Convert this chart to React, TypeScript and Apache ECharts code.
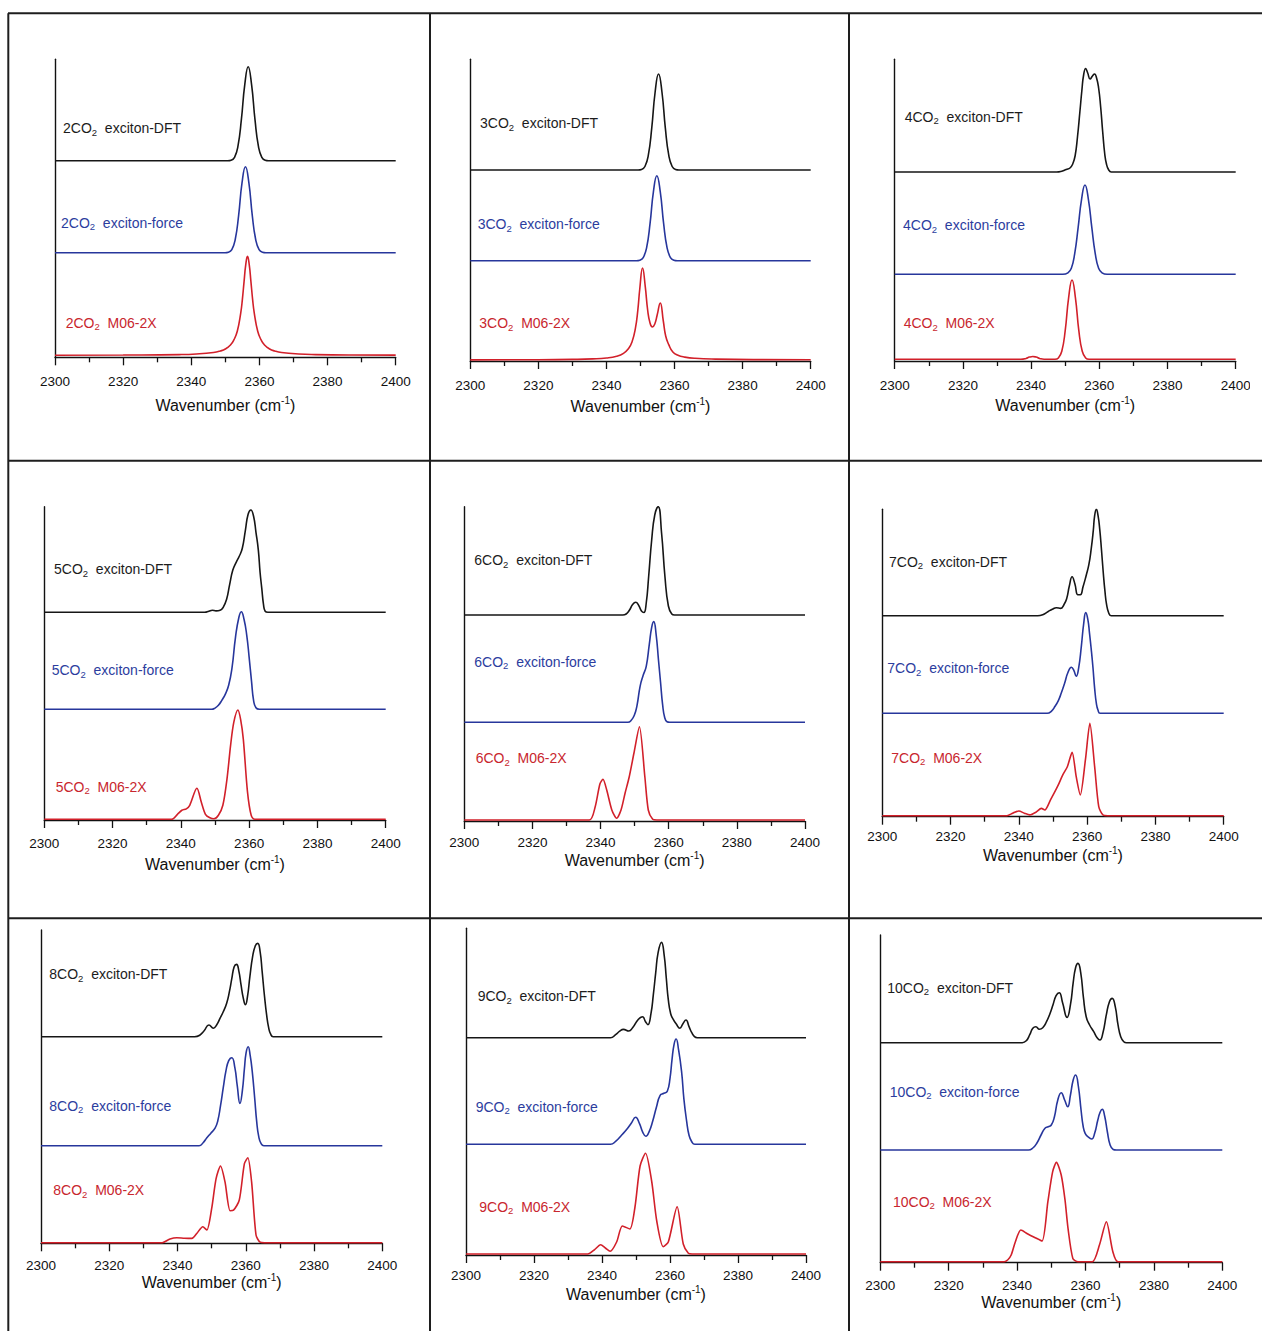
import React, { useEffect, useRef } from "react";
import * as echarts from "echarts";

type Pt = [number, number];

// ---------- axis ----------
const X_MIN = 2300;
const X_MAX = 2400;
const X_STEP = 20;
const X_TITLE = "{a|Wavenumber (cm}{b|-1}{a|)}";

// ---------- labels ----------
const CLUSTER_SIZES = [2, 3, 4, 5, 6, 7, 8, 9, 10];
const METHODS = ["exciton-DFT", "exciton-force", "M06-2X"];

// ---------- spectra: [wavenumber, relative intensity] ----------
const dft2: Pt[] = [[2300,0],[2350.7,0],[2351.7,0.5],[2352.7,3.4],[2353.7,14.5],[2354.7,41],[2355.7,76],[2356.7,94],[2357.7,76],[2358.7,41],[2359.7,14.5],[2360.7,3.4],[2361.7,0.5],[2362.7,0],[2400,0]];
const force2: Pt[] = [[2300,0],[2349.9,0],[2350.9,0.5],[2351.9,3.1],[2352.9,13.2],[2353.9,37.4],[2354.9,70],[2355.9,86],[2356.9,70],[2357.9,37.4],[2358.9,13.2],[2359.9,3.1],[2360.9,0.5],[2361.9,0],[2400,0]];
const m06_2: Pt[] = [[2300,0.1],[2320,0.3],[2336.5,0.7],[2341.5,1.3],[2346.5,2.8],[2348.5,4.3],[2350,6.3],[2351.5,10.3],[2352.5,15.4],[2353.5,24],[2354.5,42],[2355,56],[2355.5,74],[2356,91],[2356.5,99],[2357,91],[2357.5,74],[2358,56],[2358.5,42],[2359.5,24],[2360.5,15.4],[2361.5,10.3],[2363,6.3],[2364.5,4.3],[2366.5,2.8],[2371.5,1.3],[2376.5,0.7],[2386.5,0.3],[2400,0.2]];

const dft3: Pt[] = [[2300,0],[2349.3,0],[2350.3,0.5],[2351.3,3.5],[2352.3,14.8],[2353.3,41.8],[2354.3,78],[2355.3,96],[2356.3,78],[2357.3,41.8],[2358.3,14.8],[2359.3,3.5],[2360.3,0.5],[2361.3,0],[2400,0]];
const force3: Pt[] = [[2300,0],[2348.8,0],[2349.8,0.5],[2350.8,3.1],[2351.8,13.1],[2352.8,37],[2353.8,69],[2354.8,85],[2355.8,69],[2356.8,37],[2357.8,13.1],[2358.8,3.1],[2359.8,0.5],[2360.8,0],[2400,0]];
const m06_3: Pt[] = [[2300,0.1],[2320,0.3],[2330,0.6],[2336,1.1],[2340,2],[2343,3.8],[2345,6.7],[2346.5,11.5],[2347.5,18],[2348.5,31.6],[2349.2,49.4],[2349.8,71.5],[2350.6,92],[2351.4,73.4],[2352.1,50],[2352.8,37],[2353.5,33],[2354.2,36],[2354.9,45],[2355.8,57],[2356.7,39],[2357.4,24],[2358.3,15.4],[2359.5,8],[2361,4.7],[2363,2.9],[2366,1.7],[2372,0.9],[2385,0.35],[2400,0.2]];

const dft4: Pt[] = [[2300,0],[2347.5,0],[2349,0.8],[2350.3,2.5],[2351.4,4],[2352.2,8],[2352.9,16],[2353.6,35],[2354.3,60],[2354.9,82],[2355.4,97],[2356,103.5],[2356.6,99],[2357.3,93],[2358,96],[2358.6,98],[2359.2,94],[2359.8,84],[2360.4,65],[2361,40],[2361.6,18],[2362.1,8],[2362.7,2.5],[2363.5,0],[2400,0]];
const force4: Pt[] = [[2300,0],[2349.3,0],[2350.8,1.5],[2351.8,6],[2352.8,21],[2353.8,47],[2354.8,75],[2355.8,89.3],[2356.8,75],[2357.8,47],[2358.8,21],[2359.8,6],[2360.8,1.5],[2362.3,0],[2400,0]];
const m06_4: Pt[] = [[2300,0],[2337,0],[2338.5,0.8],[2339.5,2.2],[2340.5,2.8],[2341.5,2.2],[2342.5,0.9],[2343.8,0.1],[2347,0],[2348,1.3],[2349,8],[2350,28.6],[2351,61.5],[2352,79.3],[2353,61.5],[2354,28.6],[2355,8],[2356,1.3],[2357,0],[2400,0]];

const dft5: Pt[] = [[2300,0],[2347,0],[2348.2,1],[2349.2,2],[2350.3,1.4],[2351.5,2],[2352.4,5],[2353.4,13],[2354.3,28],[2355.2,42],[2356.2,50],[2357.1,56],[2358,64],[2358.9,82],[2359.7,98],[2360.5,102.3],[2361.3,96],[2362,80],[2362.7,62],[2363.2,40],[2363.7,24],[2364.2,8],[2364.7,1],[2365.5,0],[2400,0]];
const force5: Pt[] = [[2300,0],[2349,0],[2350,1.2],[2351,4],[2352,9],[2353,15],[2354,24],[2355,42],[2356,72],[2357,92],[2357.7,97.6],[2358.5,90],[2359.3,74],[2360,52],[2360.7,28],[2361.3,9],[2362,1.5],[2363,0],[2400,0]];
const m06_5: Pt[] = [[2300,0],[2337.3,0],[2339,5],[2340.3,9],[2341.6,10.5],[2342.6,14],[2344.7,31],[2346,17],[2347.2,5],[2348.5,1.5],[2349.7,0.5],[2351,4],[2352.3,14],[2353.5,40],[2354.6,75],[2355.5,97],[2356.7,109.3],[2357.5,100],[2358.3,80],[2359.5,28],[2360.6,4],[2361.7,0],[2400,0]];

const dft6: Pt[] = [[2300,0],[2346.5,0],[2347.5,1],[2348.5,5],[2349.4,10.5],[2350.3,12.7],[2351.2,9.5],[2352,4],[2352.7,2.5],[2353.4,12],[2354.1,38],[2355,75],[2355.9,100],[2356.9,108.3],[2357.9,82],[2358.9,38],[2359.9,9],[2360.9,1],[2361.7,0],[2400,0]];
const force6: Pt[] = [[2300,0],[2348,0],[2349,2],[2349.9,7],[2350.7,17],[2351.6,36],[2352.5,47],[2353.4,56],[2354.3,78],[2355,95],[2355.6,100.7],[2356.3,88],[2357,62],[2357.6,40],[2358.2,18],[2358.8,5],[2359.5,0.5],[2360.3,0],[2400,0]];
const m06_6: Pt[] = [[2300,0],[2336.7,0],[2338.4,13],[2339.8,36],[2340.7,40.7],[2341.8,30],[2343.3,10],[2344.7,1.7],[2346,10],[2347.2,27],[2348.4,43],[2349.8,67],[2351.4,93.3],[2353,43],[2354,10],[2355.3,0.7],[2356.5,0],[2400,0]];

const dft7: Pt[] = [[2300,0],[2345.5,0],[2347,1],[2348.5,4],[2349.8,6.5],[2351,8],[2352.2,7.3],[2353.2,11],[2354,17],[2354.8,30],[2355.6,39],[2356.4,32],[2357.3,21],[2358,21],[2358.8,29],[2359.7,40],[2360.5,51],[2361.2,67],[2361.8,85],[2362.2,100],[2362.7,106.3],[2363.2,100],[2363.7,86],[2364.2,66],[2364.7,44],[2365.2,25],[2365.7,11],[2366.3,3],[2367,0],[2400,0]];
const force7: Pt[] = [[2300,0],[2348.3,0],[2349.5,2],[2350.6,7],[2351.6,13],[2352.4,20],[2353.4,30],[2354.4,41],[2355.4,46],[2356.1,43],[2356.8,37],[2357.5,45],[2358.3,67],[2359,90],[2359.6,100.7],[2360.2,94],[2360.7,80],[2361.2,64],[2361.7,46],[2362.2,25],[2362.7,10],[2363.2,3],[2363.8,0],[2400,0]];
const m06_7: Pt[] = [[2300,0],[2336.5,0],[2338.2,2.5],[2340,4.7],[2341.6,2.5],[2343.2,0.8],[2345,3.5],[2346.6,7.3],[2347.6,5.7],[2349.3,16],[2351.3,29],[2352.9,41],[2354.2,49],[2355.6,63.3],[2356.8,39],[2358,20.7],[2359.5,56],[2360.8,92.3],[2362.2,49],[2363.4,9],[2364.7,0.5],[2366,0],[2400,0]];

const dft8: Pt[] = [[2300,0],[2345,0],[2346.5,1.5],[2347.8,6],[2349.2,11.7],[2350.5,8.5],[2351.5,12],[2352.4,18],[2353.4,25],[2354.4,33.5],[2355.2,45],[2355.9,58],[2356.6,70],[2357.3,72.3],[2358,65],[2358.6,52],[2359.3,38],[2359.9,32],[2360.5,40],[2361.2,60],[2362,80],[2362.8,91],[2363.5,93.3],[2364.2,85],[2364.8,65],[2365.5,40],[2366.1,22],[2366.7,9],[2367.3,2.5],[2368,0],[2400,0]];
const force8: Pt[] = [[2300,0],[2346.3,0],[2347.5,3],[2348.6,8],[2349.7,12.3],[2351,17.5],[2351.8,25],[2352.6,40],[2353.4,58],[2354.2,75],[2355,85],[2355.9,88],[2356.8,78],[2357.5,60],[2358.3,42.3],[2359,55],[2359.6,77],[2360.1,93],[2360.7,99],[2361.3,90],[2361.9,74],[2362.6,48],[2363.2,24],[2363.8,9],[2364.5,2],[2365.3,0],[2400,0]];
const m06_8: Pt[] = [[2300,0],[2335.5,0],[2337.8,3.7],[2339.8,5],[2342,4.5],[2344.2,4.3],[2345.7,9.5],[2347.4,16],[2348.6,12.7],[2350,34],[2351.3,64],[2352.6,76.7],[2353.9,61],[2355.4,32],[2356.4,32.5],[2358.1,42.7],[2359.6,79],[2360.6,85],[2361.7,61],[2363,7.7],[2364.2,0.5],[2365.5,0],[2400,0]];

const dft9: Pt[] = [[2300,0],[2342.5,0],[2344,3],[2345.2,6.5],[2346.3,8.3],[2347.9,6.7],[2349,10],[2350.6,18],[2351.9,21],[2352.8,16],[2353.5,13],[2354.4,24],[2355.1,43],[2355.8,65],[2356.5,85],[2357.5,95.3],[2358.3,82],[2358.9,60],[2359.5,38],[2360.2,24],[2361,18],[2361.8,14],[2362.9,9.5],[2363.8,14],[2364.7,17.7],[2365.6,11],[2366.4,5],[2367.2,1],[2368,0],[2400,0]];
const force9: Pt[] = [[2300,0],[2342.5,0],[2344,3],[2345.8,9.3],[2347.3,15],[2348.6,21],[2349.9,27],[2351,21],[2352,12],[2352.9,8],[2353.9,13],[2354.9,23],[2356,37],[2357.1,49],[2358.2,51],[2359.2,53],[2360,66],[2360.6,85],[2361.2,100],[2361.8,105.3],[2362.5,95],[2363.4,73],[2364.1,45],[2364.9,23],[2365.6,9],[2366.4,2.5],[2367.3,0],[2400,0]];
const m06_9: Pt[] = [[2300,0],[2335.8,0],[2337.7,4],[2339.6,9.3],[2341,6],[2342.4,2.7],[2344.3,12],[2346,28],[2348.2,25],[2349.7,47],[2351.2,88],[2352.8,100.7],[2354.6,73],[2356.1,33],[2358,7.3],[2359.5,12],[2362.1,47.3],[2363.9,10],[2365.4,0.7],[2366.5,0],[2400,0]];

const dft10: Pt[] = [[2300,0],[2341.5,0],[2342.7,2],[2343.7,8],[2344.6,14.5],[2345.5,16],[2346.5,13.5],[2347.5,15],[2348.6,21],[2349.6,29],[2350.5,38],[2351.4,47],[2352.3,50],[2353.3,40],[2354.6,25.3],[2355.6,38],[2356.4,60],[2357.1,75],[2357.8,79.3],[2358.6,70],[2359.4,45],[2360.2,26],[2361.2,17.7],[2362.4,11],[2363.4,5],[2364.2,2.7],[2365.1,10],[2366.1,28],[2367,41],[2367.8,44.3],[2368.7,36],[2369.5,18],[2370.3,6],[2371.2,1],[2372,0],[2400,0]];
const force10: Pt[] = [[2300,0],[2343.3,0],[2344.6,2],[2345.8,7],[2347,15],[2348.1,21.5],[2349.1,23.3],[2350,25],[2350.9,33],[2351.9,50],[2352.9,57.3],[2353.9,50],[2354.8,43.3],[2355.6,55],[2356.4,70],[2357.1,75],[2357.9,64],[2358.7,40],[2359.3,24],[2359.9,16.7],[2360.8,13],[2361.8,11],[2362.7,17],[2363.6,30],[2364.3,38],[2364.9,40.7],[2365.6,34],[2366.4,18],[2367.2,5],[2368.1,0.5],[2369,0],[2400,0]];
const m06_10: Pt[] = [[2300,0],[2336.2,0],[2337.3,2],[2338.3,7],[2339.5,20],[2341.1,31.7],[2343,28],[2345.3,24],[2347.3,20.7],[2349,60],[2350.4,90],[2351.5,99.3],[2352.9,86.7],[2354,62],[2354.9,33],[2356.3,3.3],[2357.8,0],[2362,0],[2364.1,17],[2366.1,40],[2368,10],[2369.5,0],[2400,0]];

const SPECTRA: Pt[][][] = [
  [dft2, force2, m06_2],
  [dft3, force3, m06_3],
  [dft4, force4, m06_4],
  [dft5, force5, m06_5],
  [dft6, force6, m06_6],
  [dft7, force7, m06_7],
  [dft8, force8, m06_8],
  [dft9, force9, m06_9],
  [dft10, force10, m06_10],
];

// ---------- layout (pixels) ----------
type Panel = {
  left: number; top: number; width: number; height: number;
  offsets: number[]; labels: number[][]; tickOff: number; titleOff: number;
  redSmooth: number;
};
const PANELS: Panel[] = [
  { left: 55, top: 59.3, width: 340.7, height: 298, offsets: [196.6, 104.6, 2], labels: [[63, 128], [61, 222.7], [65.7, 322.7]], tickOff: 23.7, titleOff: 47.7, redSmooth: 0.5 },
  { left: 470.3, top: 59.3, width: 340.4, height: 301.7, offsets: [191, 100.3, 1], labels: [[480, 123.3], [477.7, 224], [479.3, 323.3]], tickOff: 24.7, titleOff: 45, redSmooth: 0.5 },
  { left: 894.7, top: 59.3, width: 341, height: 301.7, offsets: [189, 86.7, 1.7], labels: [[904.7, 116.7], [903, 225], [903.7, 323.3]], tickOff: 24, titleOff: 44, redSmooth: 0.5 },
  { left: 44.3, top: 506.7, width: 341.4, height: 313.3, offsets: [207.7, 110.7, 0.7], labels: [[54, 569.3], [51.7, 670], [55.7, 786.7]], tickOff: 23.3, titleOff: 44, redSmooth: 0.3 },
  { left: 464.3, top: 506.7, width: 340.7, height: 314.3, offsets: [206, 98.7, 1], labels: [[474.3, 560], [474.3, 661.7], [475.7, 758.3]], tickOff: 21.3, titleOff: 38.3, redSmooth: 0.25 },
  { left: 882.3, top: 509.3, width: 341.4, height: 307.4, offsets: [201, 103.4, 1], labels: [[889, 561.7], [887.3, 668.3], [891.3, 757.7]], tickOff: 20, titleOff: 38.3, redSmooth: 0.25 },
  { left: 41, top: 930, width: 341.3, height: 313.3, offsets: [206.6, 97.6, 0.6], labels: [[49.3, 974.3], [49.3, 1105.7], [53.3, 1190]], tickOff: 21.7, titleOff: 38.4, redSmooth: 0.25 },
  { left: 466, top: 928.3, width: 340, height: 326.7, offsets: [217.3, 110.7, 1], labels: [[477.7, 996], [475.7, 1106.7], [479.3, 1206.7]], tickOff: 20.7, titleOff: 39, redSmooth: 0.25 },
  { left: 880.3, top: 935, width: 342, height: 327.7, offsets: [220, 112.7, 1], labels: [[887.3, 987.7], [889.7, 1091.7], [893, 1201.7]], tickOff: 22.3, titleOff: 39.6, redSmooth: 0.25 },
];

const LINE_COLORS = ["#161616", "#27369c", "#d2202a"];
const TEXT_COLORS = ["#1c1c1c", "#2c3d9e", "#c8262e"];
const FONT = "'Liberation Sans', Arial, Helvetica, sans-serif";
const AXIS_COLOR = "#111";

function buildOption(): echarts.EChartsCoreOption {
  const grid = PANELS.map((p) => ({ left: p.left, top: p.top, width: p.width, height: p.height, containLabel: false }));

  const xAxis = PANELS.map((p, i) => ({
    type: "value",
    gridIndex: i,
    min: X_MIN,
    max: X_MAX,
    interval: X_STEP,
    axisLine: { show: true, onZero: false, lineStyle: { color: AXIS_COLOR, width: 1.4 } },
    axisTick: { show: true, length: 8, lineStyle: { color: AXIS_COLOR, width: 1.3 } },
    minorTick: { show: true, splitNumber: 2, length: 5, lineStyle: { color: AXIS_COLOR, width: 1.3 } },
    splitLine: { show: false },
    minorSplitLine: { show: false },
    axisLabel: {
      formatter: (v: number) => String(v),
      margin: p.tickOff - 7,
      fontSize: 13.5,
      color: AXIS_COLOR,
      fontFamily: FONT,
    },
    name: X_TITLE,
    nameLocation: "middle",
    nameGap: p.titleOff - 10,
    nameTextStyle: {
      fontFamily: FONT,
      color: AXIS_COLOR,
      fontSize: 16,
      rich: {
        a: { fontSize: 16, lineHeight: 20, color: AXIS_COLOR, fontFamily: FONT },
        b: { fontSize: 10, lineHeight: 10, verticalAlign: "top", color: AXIS_COLOR, fontFamily: FONT },
      },
    },
  }));

  const yAxis = PANELS.map((p, i) => ({
    type: "value",
    gridIndex: i,
    min: 0,
    max: p.height,
    axisLine: { show: true, onZero: false, lineStyle: { color: AXIS_COLOR, width: 1.4 } },
    axisTick: { show: false },
    axisLabel: { show: false },
    splitLine: { show: false },
  }));

  const series: any[] = [];
  PANELS.forEach((p, i) => {
    SPECTRA[i].forEach((spec, j) => {
      series.push({
        type: "line",
        name: `${CLUSTER_SIZES[i]}CO2 ${METHODS[j]}`,
        xAxisIndex: i,
        yAxisIndex: i,
        data: spec.map(([x, h]) => [x, p.offsets[j] + h]),
        showSymbol: false,
        symbol: "none",
        smooth: j === 2 ? p.redSmooth : 0.5,
        lineStyle: { color: LINE_COLORS[j], width: 1.6 },
        silent: true,
      });
    });
  });

  const title: any[] = [];
  PANELS.forEach((p, i) => {
    METHODS.forEach((m, j) => {
      const [lx, cy] = p.labels[j];
      const c = TEXT_COLORS[j];
      title.push({
        text: `{t|${CLUSTER_SIZES[i]}CO}{s|2}{t|  ${m}}`,
        left: lx,
        top: cy - 9,
        padding: 0,
        textStyle: {
          fontFamily: FONT,
          fontSize: 14,
          fontWeight: "normal",
          color: c,
          rich: {
            t: { fontSize: 14, lineHeight: 18, color: c, fontFamily: FONT },
            s: { fontSize: 9.5, lineHeight: 11, verticalAlign: "bottom", color: c, fontFamily: FONT },
          },
        },
      });
    });
  });

  const BORDER = { stroke: "#1e1e1e", lineWidth: 2 };
  const graphic: any[] = [
    { type: "line", shape: { x1: 8, y1: 13.3, x2: 1262, y2: 13.3 }, style: BORDER, z: 50 },
    { type: "line", shape: { x1: 8, y1: 460.7, x2: 1262, y2: 460.7 }, style: BORDER, z: 50 },
    { type: "line", shape: { x1: 8, y1: 918.3, x2: 1262, y2: 918.3 }, style: BORDER, z: 50 },
    { type: "line", shape: { x1: 8.3, y1: 13.3, x2: 8.3, y2: 1331 }, style: BORDER, z: 50 },
    { type: "line", shape: { x1: 430, y1: 13.3, x2: 430, y2: 1331 }, style: BORDER, z: 50 },
    { type: "line", shape: { x1: 849, y1: 13.3, x2: 849, y2: 1331 }, style: BORDER, z: 50 },
    { type: "rect", shape: { x: 1250, y: 372, width: 12, height: 28 }, style: { fill: "#fff" }, z: 100 },
  ];

  return {
    animation: false,
    backgroundColor: "#ffffff",
    grid,
    xAxis,
    yAxis,
    series,
    title,
    graphic,
  };
}

export default function App() {
  const ref = useRef<HTMLDivElement>(null);
  useEffect(() => {
    if (!ref.current) return;
    const chart = echarts.init(ref.current, undefined, { renderer: "svg" });
    chart.setOption(buildOption());
    return () => chart.dispose();
  }, []);
  return (
    <div
      ref={ref}
      style={{ position: "absolute", left: 0, top: 0, width: 1262, height: 1331, background: "#fff" }}
    />
  );
}
